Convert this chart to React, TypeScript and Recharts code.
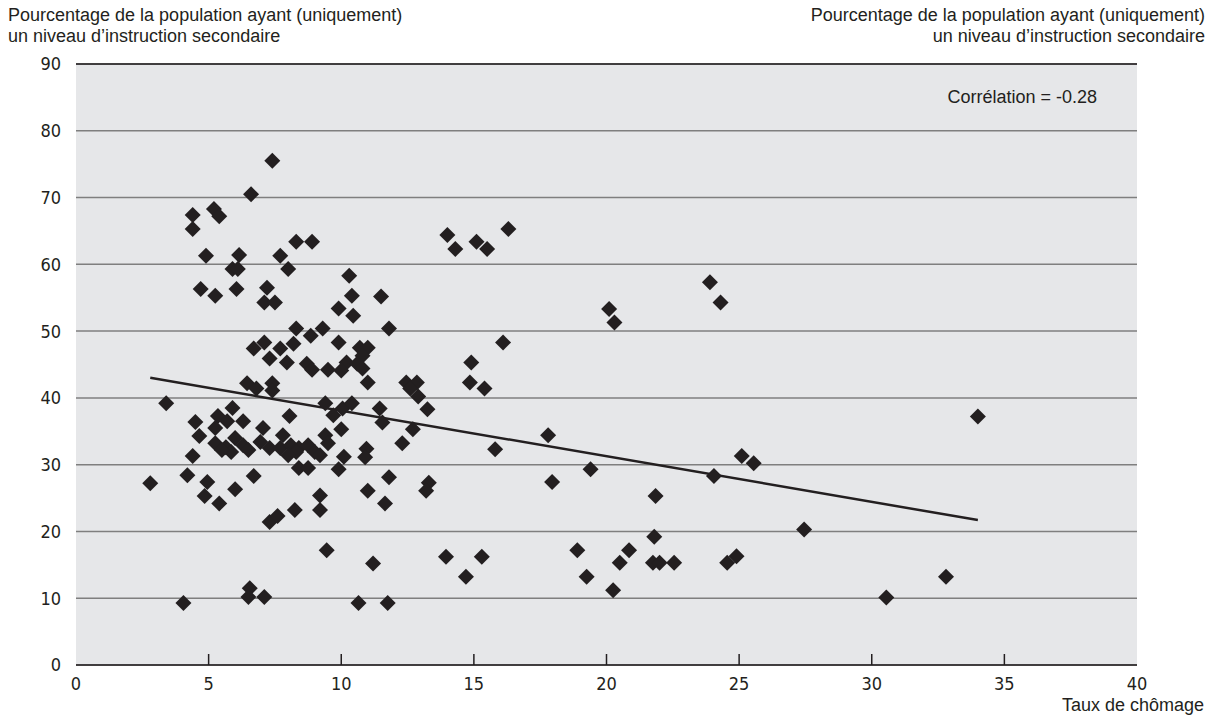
import React from "react";
import {
  ScatterChart,
  Scatter,
  XAxis,
  YAxis,
  CartesianGrid,
  ReferenceLine,
} from "recharts";

// taux de chômage (x) et part du secondaire (y)
const chomage = [
  7.4, 6.6, 5.2, 5.4, 4.4, 4.4, 4.9, 6.15, 5.9, 6.1, 4.7, 5.25, 6.05, 7.2, 7.1, 7.5,
  8.3, 8.9, 7.7, 8.0, 10.3, 10.4, 9.9, 10.45, 8.3, 9.3, 11.5, 11.8, 8.85, 9.9, 10.7,
  11.0, 10.8, 10.2, 10.6, 8.7, 8.9, 9.5, 10.0, 10.8, 11.0, 6.7, 7.1, 7.7, 8.2, 7.95,
  7.3, 6.45, 7.4, 6.8, 7.4, 3.4, 2.8, 4.5, 4.65, 4.4, 4.2, 4.95, 4.85, 5.4, 5.35, 5.9,
  5.7, 6.3, 5.25, 7.05, 7.8, 8.05, 5.25, 5.65, 6.0, 6.3, 6.5, 5.85, 5.5, 6.95, 7.3,
  7.7, 8.1, 8.4, 8.75, 9.0, 9.2, 8.3, 8.0, 9.4, 9.5, 6.7, 6.0, 8.4, 8.75, 9.9, 9.2,
  9.2, 8.25, 7.3, 7.6, 4.05, 6.55, 6.5, 7.1, 9.45, 9.4, 9.7, 10.05, 10.4, 11.45,
  11.55, 13.25, 12.9, 10.0, 10.1, 10.95, 10.9, 12.3, 12.7, 15.8, 11.8, 13.3, 13.2,
  11.0, 11.65, 11.2, 13.95, 15.3, 14.7, 10.65, 11.75, 14.0, 14.3, 15.1, 15.5, 16.3,
  16.1, 14.9, 14.85, 15.4, 12.45, 12.85, 12.6, 20.1, 20.3, 23.9, 24.3, 17.8, 17.95,
  19.4, 21.85, 24.05, 25.1, 25.55, 21.8, 27.45, 18.9, 19.25, 20.85, 20.5, 20.25,
  21.75, 22.0, 22.55, 24.55, 24.9, 34.0, 30.55, 32.8,
];

const secondaire = [
  75.5, 70.5, 68.3, 67.2, 67.4, 65.3, 61.3, 61.4, 59.3, 59.3, 56.3, 55.3, 56.3, 56.5,
  54.3, 54.3, 63.4, 63.4, 61.3, 59.3, 58.3, 55.3, 53.4, 52.3, 50.4, 50.4, 55.2, 50.4,
  49.3, 48.3, 47.5, 47.5, 46.3, 45.3, 45.1, 45.1, 44.2, 44.2, 44.1, 44.4, 42.3, 47.4,
  48.3, 47.4, 48.1, 45.3, 45.9, 42.2, 42.2, 41.4, 41.1, 39.2, 27.2, 36.4, 34.3, 31.3,
  28.4, 27.4, 25.3, 24.2, 37.3, 38.5, 36.5, 36.5, 35.5, 35.5, 34.4, 37.3, 33.2, 32.6,
  34.0, 32.9, 32.2, 31.9, 32.2, 33.4, 32.5, 32.5, 32.9, 32.5, 32.9, 31.9, 31.4, 31.9,
  31.4, 34.4, 33.2, 28.3, 26.3, 29.5, 29.5, 29.3, 25.4, 23.2, 23.2, 21.4, 22.3, 9.3,
  11.5, 10.2, 10.2, 17.2, 39.2, 37.4, 38.4, 39.2, 38.4, 36.3, 38.3, 40.2, 35.3, 31.2,
  32.4, 31.1, 33.2, 35.3, 32.3, 28.1, 27.3, 26.1, 26.1, 24.2, 15.2, 16.2, 16.2, 13.2,
  9.3, 9.3, 64.4, 62.3, 63.4, 62.3, 65.3, 48.3, 45.3, 42.3, 41.4, 42.3, 42.3, 41.4,
  53.3, 51.3, 57.3, 54.3, 34.4, 27.4, 29.3, 25.3, 28.3, 31.3, 30.2, 19.2, 20.3, 17.2,
  13.2, 17.2, 15.3, 11.2, 15.3, 15.3, 15.3, 15.3, 16.3, 37.2, 10.1, 13.2,
];

// droite de régression
const trendX = [2.8, 34.0];
const trendY = [43.0, 21.7];

const xTicks = [0, 5, 10, 15, 20, 25, 30, 35, 40];
const yTicks = [0, 10, 20, 30, 40, 50, 60, 70, 80, 90];

const points = chomage.map((x, i) => ({ x, y: secondaire[i] }));

const INK = "#231f20";
const TEXT_FONT = "'Liberation Sans', Arial, sans-serif";
const TICK_FONT =
  "'Liberation Sans Narrow', 'Arial Narrow', 'DejaVu Sans Condensed', 'Liberation Sans', sans-serif";

function Diamond(props: any) {
  const { cx, cy } = props;
  if (cx == null || cy == null) return null;
  const r = 8;
  return (
    <polygon
      points={`${cx},${cy - r} ${cx + r},${cy} ${cx},${cy + r} ${cx - r},${cy}`}
      fill={INK}
    />
  );
}

function XTick(props: any) {
  const { x, y, payload } = props;
  const v = payload.value;
  return (
    <g>
      {v > 0 && v < 40 && (
        <line x1={x} x2={x} y1={y} y2={y - 11} stroke={INK} strokeWidth={1.5} />
      )}
      <text
        x={x}
        y={y + 25}
        textAnchor="middle"
        fill={INK}
        fontSize={18}
        fontFamily={TICK_FONT}
      >
        {v}
      </text>
    </g>
  );
}

const tickStyle = { fill: INK, fontSize: 18, fontFamily: TICK_FONT };

export default function App() {
  return (
    <div
      style={{
        position: "relative",
        width: 1211,
        height: 718,
        background: "#fff",
        fontFamily: TEXT_FONT,
        color: INK,
        overflow: "hidden",
      }}
    >
      <style>{`html, body { margin: 0; padding: 0; }`}</style>
      <ScatterChart
        width={1211}
        height={718}
        margin={{ top: 64, right: 14, bottom: 23, left: 16 }}
      >
        <CartesianGrid
          yAxisId="left"
          vertical={false}
          stroke="#7f7f7f"
          strokeWidth={1.5}
          fill="#e6e7e9"
        />
        <XAxis
          type="number"
          dataKey="x"
          domain={[0, 40]}
          ticks={xTicks}
          height={30}
          tickSize={0}
          tickMargin={0}
          axisLine={{ stroke: INK, strokeWidth: 1.5 }}
          tickLine={false}
          tick={<XTick />}
          interval={0}
        />
        <YAxis
          yAxisId="left"
          type="number"
          dataKey="y"
          domain={[0, 90]}
          ticks={yTicks}
          width={60}
          tickSize={0}
          tickMargin={15}
          axisLine={false}
          tickLine={false}
          tick={tickStyle}
          interval={0}
        />
        <YAxis
          yAxisId="right"
          orientation="right"
          type="number"
          domain={[0, 90]}
          ticks={yTicks}
          width={60}
          tickSize={0}
          tickMargin={15}
          axisLine={false}
          tickLine={false}
          tick={tickStyle}
          interval={0}
        />
        <ReferenceLine yAxisId="left" y={90} stroke={INK} strokeWidth={1.5} />
        <Scatter
          yAxisId="left"
          data={points}
          shape={<Diamond />}
          isAnimationActive={false}
        />
        <ReferenceLine
          yAxisId="left"
          segment={[
            { x: trendX[0], y: trendY[0] },
            { x: trendX[1], y: trendY[1] },
          ]}
          stroke={INK}
          strokeWidth={2.5}
        />
      </ScatterChart>

      <div
        style={{
          position: "absolute",
          left: 8,
          top: 5,
          fontSize: 18,
          lineHeight: "21px",
          whiteSpace: "nowrap",
        }}
      >
        Pourcentage de la population ayant (uniquement)
        <br />
        un niveau d’instruction secondaire
      </div>
      <div
        style={{
          position: "absolute",
          right: 6,
          top: 5,
          fontSize: 18,
          lineHeight: "21px",
          textAlign: "right",
          whiteSpace: "nowrap",
        }}
      >
        Pourcentage de la population ayant (uniquement)
        <br />
        un niveau d’instruction secondaire
      </div>
      <div
        style={{
          position: "absolute",
          right: 114,
          top: 88,
          fontSize: 18,
          lineHeight: "18px",
          whiteSpace: "nowrap",
        }}
      >
        Corrélation = -0.28
      </div>
      <div
        style={{
          position: "absolute",
          right: 7,
          top: 696,
          fontSize: 18,
          lineHeight: "18px",
          whiteSpace: "nowrap",
        }}
      >
        Taux de chômage
      </div>
    </div>
  );
}
